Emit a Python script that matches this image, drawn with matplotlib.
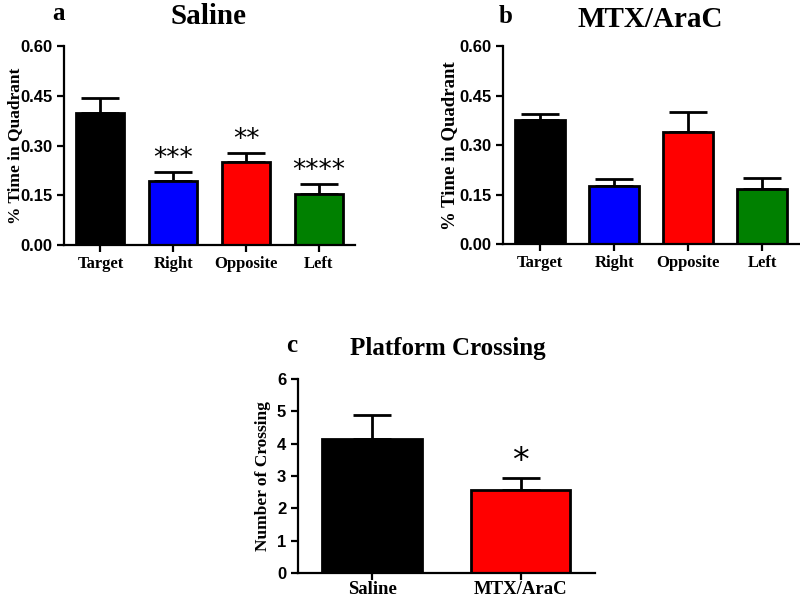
import matplotlib
matplotlib.use('Agg')
import matplotlib.pyplot as plt

quadrants = ['Target', 'Right', 'Opposite', 'Left']
quad_colors = ['#000000', '#0000ff', '#ff0000', '#008000']

saline_mean = [0.400, 0.195, 0.250, 0.155]
saline_sem = [0.045, 0.025, 0.028, 0.030]
saline_stars = ['', '***', '**', '****']

mtx_mean = [0.375, 0.175, 0.340, 0.168]
mtx_sem = [0.018, 0.023, 0.062, 0.032]

groups = ['Saline', 'MTX/AraC']
group_colors = ['#000000', '#ff0000']
crossing_mean = [4.15, 2.58]
crossing_sem = [0.73, 0.37]
crossing_stars = ['', '*']

SERIF = 'Liberation Serif'
SANS = 'Liberation Sans'


def style_axes(ax, xsize, xpad=3):
    for side in ['top', 'right']:
        ax.spines[side].set_visible(False)
    for side in ['left', 'bottom']:
        ax.spines[side].set_linewidth(1.6)
    ax.tick_params(width=1.6, length=5)
    ax.tick_params(axis='x', pad=xpad)
    for lab in ax.get_yticklabels():
        lab.set_fontfamily(SANS)
        lab.set_fontweight('bold')
        lab.set_fontsize(12)
    for lab in ax.get_xticklabels():
        lab.set_fontfamily(SERIF)
        lab.set_fontweight('bold')
        lab.set_fontsize(xsize)


def bar_panel(ax, labels, means, sems, colors, stars, width, star_size):
    x = range(len(labels))
    ax.bar(x, means, width, color=colors, edgecolor='black', linewidth=2, zorder=2)
    ax.errorbar(x, means, yerr=[[0] * len(sems), sems], fmt='none', ecolor='black',
                elinewidth=2, capsize=14, capthick=2, zorder=1)
    ax.set_xticks(list(x))
    ax.set_xticklabels(labels)
    ax.set_xlim(-0.5, len(labels) - 0.5)
    for i, s in enumerate(stars):
        if s:
            ax.text(i, means[i] + sems[i], s, ha='center', va='bottom',
                    fontsize=star_size, family='DejaVu Sans')


fig = plt.figure(figsize=(8, 6.01), dpi=100)

# panel a
ax1 = fig.add_axes([0.08, 0.592, 0.364, 0.331])
bar_panel(ax1, quadrants, saline_mean, saline_sem, quad_colors, saline_stars, 0.66, 19)
ax1.set_ylim(0, 0.60)
ax1.set_yticks([0, 0.15, 0.30, 0.45, 0.60])
ax1.set_yticklabels(['0.00', '0.15', '0.30', '0.45', '0.60'])
ax1.set_ylabel('% Time in Quadrant', family=SERIF, fontweight='bold', fontsize=12.5)
ax1.yaxis.set_label_coords(-0.142, 0.5)
style_axes(ax1, 12)
fig.text(0.26, 0.973, 'Saline', ha='center', va='center', family=SERIF,
         fontweight='bold', fontsize=21)
fig.text(0.073, 0.978, 'a', ha='center', va='center', family=SERIF,
         fontweight='bold', fontsize=18)

# panel b
ax2 = fig.add_axes([0.629, 0.594, 0.37, 0.329])
bar_panel(ax2, quadrants, mtx_mean, mtx_sem, quad_colors, [''] * 4, 0.68, 19)
ax2.set_ylim(0, 0.60)
ax2.set_yticks([0, 0.15, 0.30, 0.45, 0.60])
ax2.set_yticklabels(['0.00', '0.15', '0.30', '0.45', '0.60'])
ax2.set_ylabel('% Time in Quadrant', family=SERIF, fontweight='bold', fontsize=13.5,
               labelpad=1)
style_axes(ax2, 12)
fig.text(0.8125, 0.968, 'MTX/AraC', ha='center', va='center', family=SERIF,
         fontweight='bold', fontsize=21)
fig.text(0.632, 0.973, 'b', ha='center', va='center', family=SERIF,
         fontweight='bold', fontsize=18)

# panel c
ax3 = fig.add_axes([0.3725, 0.0466, 0.371, 0.323])
bar_panel(ax3, groups, crossing_mean, crossing_sem, group_colors, crossing_stars, 0.67, 24)
ax3.set_ylim(0, 6)
ax3.set_yticks(range(7))
ax3.set_ylabel('Number of Crossing', family=SERIF, fontweight='bold', fontsize=12.5,
               labelpad=4)
style_axes(ax3, 13.5, xpad=1)
fig.text(0.56, 0.42, 'Platform Crossing', ha='center', va='center', family=SERIF,
         fontweight='bold', fontsize=18)
fig.text(0.365, 0.425, 'c', ha='center', va='center', family=SERIF,
         fontweight='bold', fontsize=18)

fig.savefig('out.png', dpi=100)
